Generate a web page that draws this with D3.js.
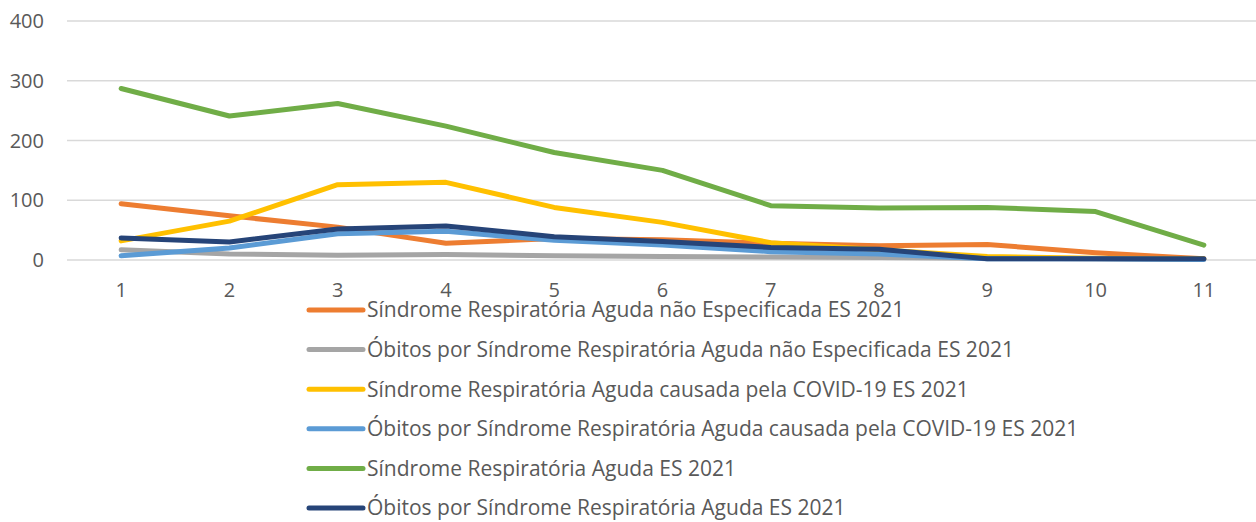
<!DOCTYPE html>
<html>
<head>
  <meta charset="utf-8">
  <title>SRAG ES 2021</title>
  <style>
    body { margin: 0; background: #fff; }
    text { font-family: 'Open Sans', sans-serif; fill: #595959; }
  </style>
</head>
<body>
  <script src="https://d3js.org/d3.v7.min.js"></script>
  <script>
    const width = 1256;
    const height = 522;

    const categories = ['1', '2', '3', '4', '5', '6', '7', '8', '9', '10', '11'];
    const yTicks = [0, 100, 200, 300, 400];

    const seriesNames = [
      'Síndrome Respiratória Aguda não Especificada ES 2021',
      'Óbitos por Síndrome Respiratória Aguda não Especificada ES 2021',
      'Síndrome Respiratória Aguda causada pela COVID-19 ES 2021',
      'Óbitos por Síndrome Respiratória Aguda causada pela COVID-19 ES 2021',
      'Síndrome Respiratória Aguda ES 2021',
      'Óbitos por Síndrome Respiratória Aguda ES 2021'
    ];
    const seriesColors = ['#ED7D31', '#A5A5A5', '#FFC000', '#5B9BD5', '#70AD47', '#264478'];

    const sraNaoEspec = [94, 74, 55, 28, 36, 34, 28, 24, 26, 12, 2];
    const obitosNaoEspec = [17, 10, 8, 9, 7, 6, 5, 4, 3, 2, 1];
    const sraCovid = [32, 65, 126, 130, 88, 63, 29, 17, 6, 3, 2];
    const obitosCovid = [7, 20, 44, 48, 33, 25, 14, 10, 2, 2, 1];
    const sraTotal = [287, 241, 262, 224, 180, 150, 91, 87, 88, 81, 25];
    const obitosTotal = [37, 30, 52, 57, 39, 31, 21, 18, 2, 2, 2];

    const seriesValues = [sraNaoEspec, obitosNaoEspec, sraCovid, obitosCovid, sraTotal, obitosTotal];

    const svg = d3.select('body')
      .append('svg')
      .attr('width', width)
      .attr('height', height);

    const x = d3.scalePoint()
      .domain(categories)
      .range([67, 1258])
      .padding(0.5);

    const y = d3.scaleLinear()
      .domain([0, 400])
      .range([260, 21]);

    // gridlines
    svg.append('g')
      .selectAll('line')
      .data(yTicks)
      .join('line')
      .attr('x1', 67)
      .attr('x2', width)
      .attr('y1', (d) => y(d))
      .attr('y2', (d) => y(d))
      .attr('stroke', '#d9d9d9')
      .attr('stroke-width', 1.5);

    // y axis labels
    svg.append('g')
      .selectAll('text')
      .data(yTicks)
      .join('text')
      .attr('x', 44)
      .attr('y', (d) => y(d))
      .attr('dy', '0.35em')
      .attr('text-anchor', 'end')
      .attr('font-size', 20)
      .text((d) => d);

    // x axis labels
    svg.append('g')
      .selectAll('text')
      .data(categories)
      .join('text')
      .attr('x', (d) => x(d))
      .attr('y', 290)
      .attr('dy', '0.35em')
      .attr('text-anchor', 'middle')
      .attr('font-size', 20)
      .text((d) => d);

    const line = d3.line()
      .x((d, i) => x(categories[i]))
      .y((d) => y(d));

    svg.append('g')
      .selectAll('path')
      .data(seriesValues)
      .join('path')
      .attr('d', line)
      .attr('fill', 'none')
      .attr('stroke', (d, i) => seriesColors[i])
      .attr('stroke-width', 5)
      .attr('stroke-linecap', 'round')
      .attr('stroke-linejoin', 'round');

    // legend
    const legend = svg.append('g')
      .selectAll('g')
      .data(seriesNames)
      .join('g')
      .attr('transform', (d, i) => `translate(307,${310 + i * 39.6})`);

    legend.append('line')
      .attr('x1', 2)
      .attr('x2', 56)
      .attr('stroke', (d, i) => seriesColors[i])
      .attr('stroke-width', 5)
      .attr('stroke-linecap', 'round');

    legend.append('text')
      .attr('x', 60)
      .attr('dy', '0.35em')
      .attr('font-size', 21)
      .text((d) => d);
  </script>
</body>
</html>
